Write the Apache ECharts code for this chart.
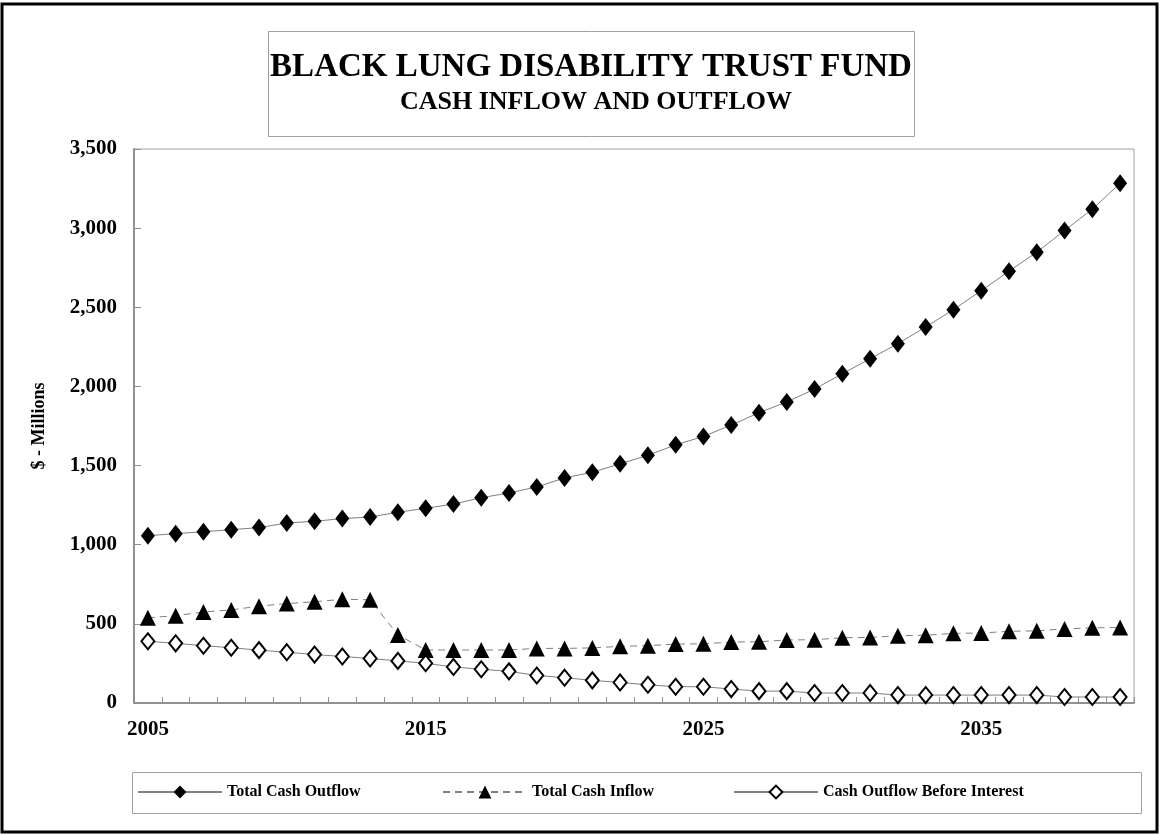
<!DOCTYPE html>
<html>
<head>
<meta charset="utf-8">
<script src="https://cdn.jsdelivr.net/npm/echarts@6/dist/echarts.min.js"></script>
<style>
html, body { margin: 0; padding: 0; background: #fff; }
#chart { width: 1160px; height: 835px; }
</style>
</head>
<body>
<div id="chart"></div>
<script>
const years = ['2005','2006','2007','2008','2009','2010','2011','2012','2013','2014',
  '2015','2016','2017','2018','2019','2020','2021','2022','2023','2024',
  '2025','2026','2027','2028','2029','2030','2031','2032','2033','2034',
  '2035','2036','2037','2038','2039','2040'];

const totalCashOutflow = [1057, 1070, 1082, 1095, 1108, 1137, 1148, 1165, 1175, 1205,
  1230, 1257, 1297, 1327, 1365, 1422, 1458, 1511, 1565, 1631,
  1684, 1756, 1834, 1902, 1983, 2080, 2175, 2270, 2376, 2485,
  2605, 2728, 2848, 2985, 3120, 3283];

const totalCashInflow = [538, 552, 575, 588, 612, 628, 640, 655, 652, 430,
  335, 335, 335, 335, 345, 345, 348, 358, 362, 372,
  374, 385, 387, 398, 400, 412, 414, 425, 428, 440,
  442, 453, 456, 468, 475, 477];

const cashOutflowBeforeInterest = [390, 377, 362, 349, 334, 321, 306, 294, 281, 266,
  251, 228, 213, 200, 174, 160, 143, 130, 115, 103,
  103, 88, 75, 75, 63, 63, 63, 50, 50, 50,
  50, 50, 50, 38, 38, 38];

const seriesNames = ['Total Cash Outflow', 'Total Cash Inflow', 'Cash Outflow Before Interest'];
const titleLines = ['BLACK LUNG DISABILITY TRUST FUND', 'CASH INFLOW AND OUTFLOW'];
const yAxisTitle = '$ - Millions';

const serif = '"Liberation Serif", "Times New Roman", serif';
const chart = echarts.init(document.getElementById('chart'), null, { renderer: 'canvas' });

const legendBase = {
  top: 779, itemWidth: 84, itemHeight: 16,
  textStyle: { fontFamily: serif, fontWeight: 'bold', fontSize: 16, color: '#000' },
  selectedMode: false
};

chart.setOption({
  animation: false,
  backgroundColor: '#fff',
  graphic: [
    { type: 'rect', z: 100, silent: true,
      shape: { x: 2, y: 4, width: 1155, height: 828 },
      style: { fill: 'none', stroke: '#000', lineWidth: 3 } },
    { type: 'rect', z: 100, silent: true,
      shape: { x: 268.5, y: 31.5, width: 646, height: 105 },
      style: { fill: 'none', stroke: '#a0a0a0', lineWidth: 1 } },
    { type: 'text', z: 100, silent: true, x: 591, y: 67,
      style: { text: titleLines[0], fontFamily: serif, fontWeight: 'bold', fontSize: 33,
        fill: '#000', textAlign: 'center', textVerticalAlign: 'middle' } },
    { type: 'text', z: 100, silent: true, x: 596, y: 102,
      style: { text: titleLines[1], fontFamily: serif, fontWeight: 'bold', fontSize: 26,
        fill: '#000', textAlign: 'center', textVerticalAlign: 'middle' } },
    { type: 'rect', z: 100, silent: true,
      shape: { x: 132.5, y: 772.5, width: 1009, height: 41 },
      style: { fill: 'none', stroke: '#a0a0a0', lineWidth: 1 } }
  ],
  legend: [
    Object.assign({}, legendBase, { left: 132, data: [seriesNames[0]] }),
    Object.assign({}, legendBase, { left: 437, data: [seriesNames[1]] }),
    Object.assign({}, legendBase, { left: 728, data: [seriesNames[2]] })
  ],
  grid: { left: 134, right: 26, top: 149, bottom: 132, show: true,
    borderColor: '#a0a0a0', borderWidth: 1, backgroundColor: 'transparent' },
  xAxis: {
    type: 'category', data: years, boundaryGap: true,
    axisLine: { lineStyle: { color: '#909090', width: 2 } },
    axisTick: { show: true, inside: true, length: 6, interval: 0, lineStyle: { color: '#909090', width: 1 } },
    axisLabel: { interval: 9, margin: 16, fontFamily: serif, fontWeight: 'bold', fontSize: 21, color: '#000' },
    splitLine: { show: false }
  },
  yAxis: {
    type: 'value', min: 0, max: 3500, interval: 500,
    name: yAxisTitle, nameLocation: 'middle', nameRotate: 90, nameGap: 86,
    nameTextStyle: { fontFamily: serif, fontWeight: 'bold', fontSize: 18, color: '#000' },
    axisLine: { show: true, lineStyle: { color: '#909090', width: 2 } },
    axisTick: { show: true, inside: true, length: 7, lineStyle: { color: '#909090', width: 1 } },
    axisLabel: { margin: 17, fontFamily: serif, fontWeight: 'bold', fontSize: 21, color: '#000',
      formatter: v => v.toLocaleString('en-US') },
    splitLine: { show: false }
  },
  series: [
    { name: seriesNames[0], type: 'line', data: totalCashOutflow,
      symbol: 'diamond', symbolSize: [14, 18],
      itemStyle: { color: '#000' },
      lineStyle: { color: '#808080', width: 1 } },
    { name: seriesNames[1], type: 'line', data: totalCashInflow,
      symbol: 'triangle', symbolSize: [16, 16],
      itemStyle: { color: '#000' },
      lineStyle: { color: '#808080', width: 1, type: [7, 5] } },
    { name: seriesNames[2], type: 'line', data: cashOutflowBeforeInterest,
      symbol: 'diamond', symbolSize: [13, 16],
      itemStyle: { color: '#fff', borderColor: '#000', borderWidth: 2 },
      lineStyle: { color: '#808080', width: 1 } }
  ]
});
</script>
</body>
</html>
